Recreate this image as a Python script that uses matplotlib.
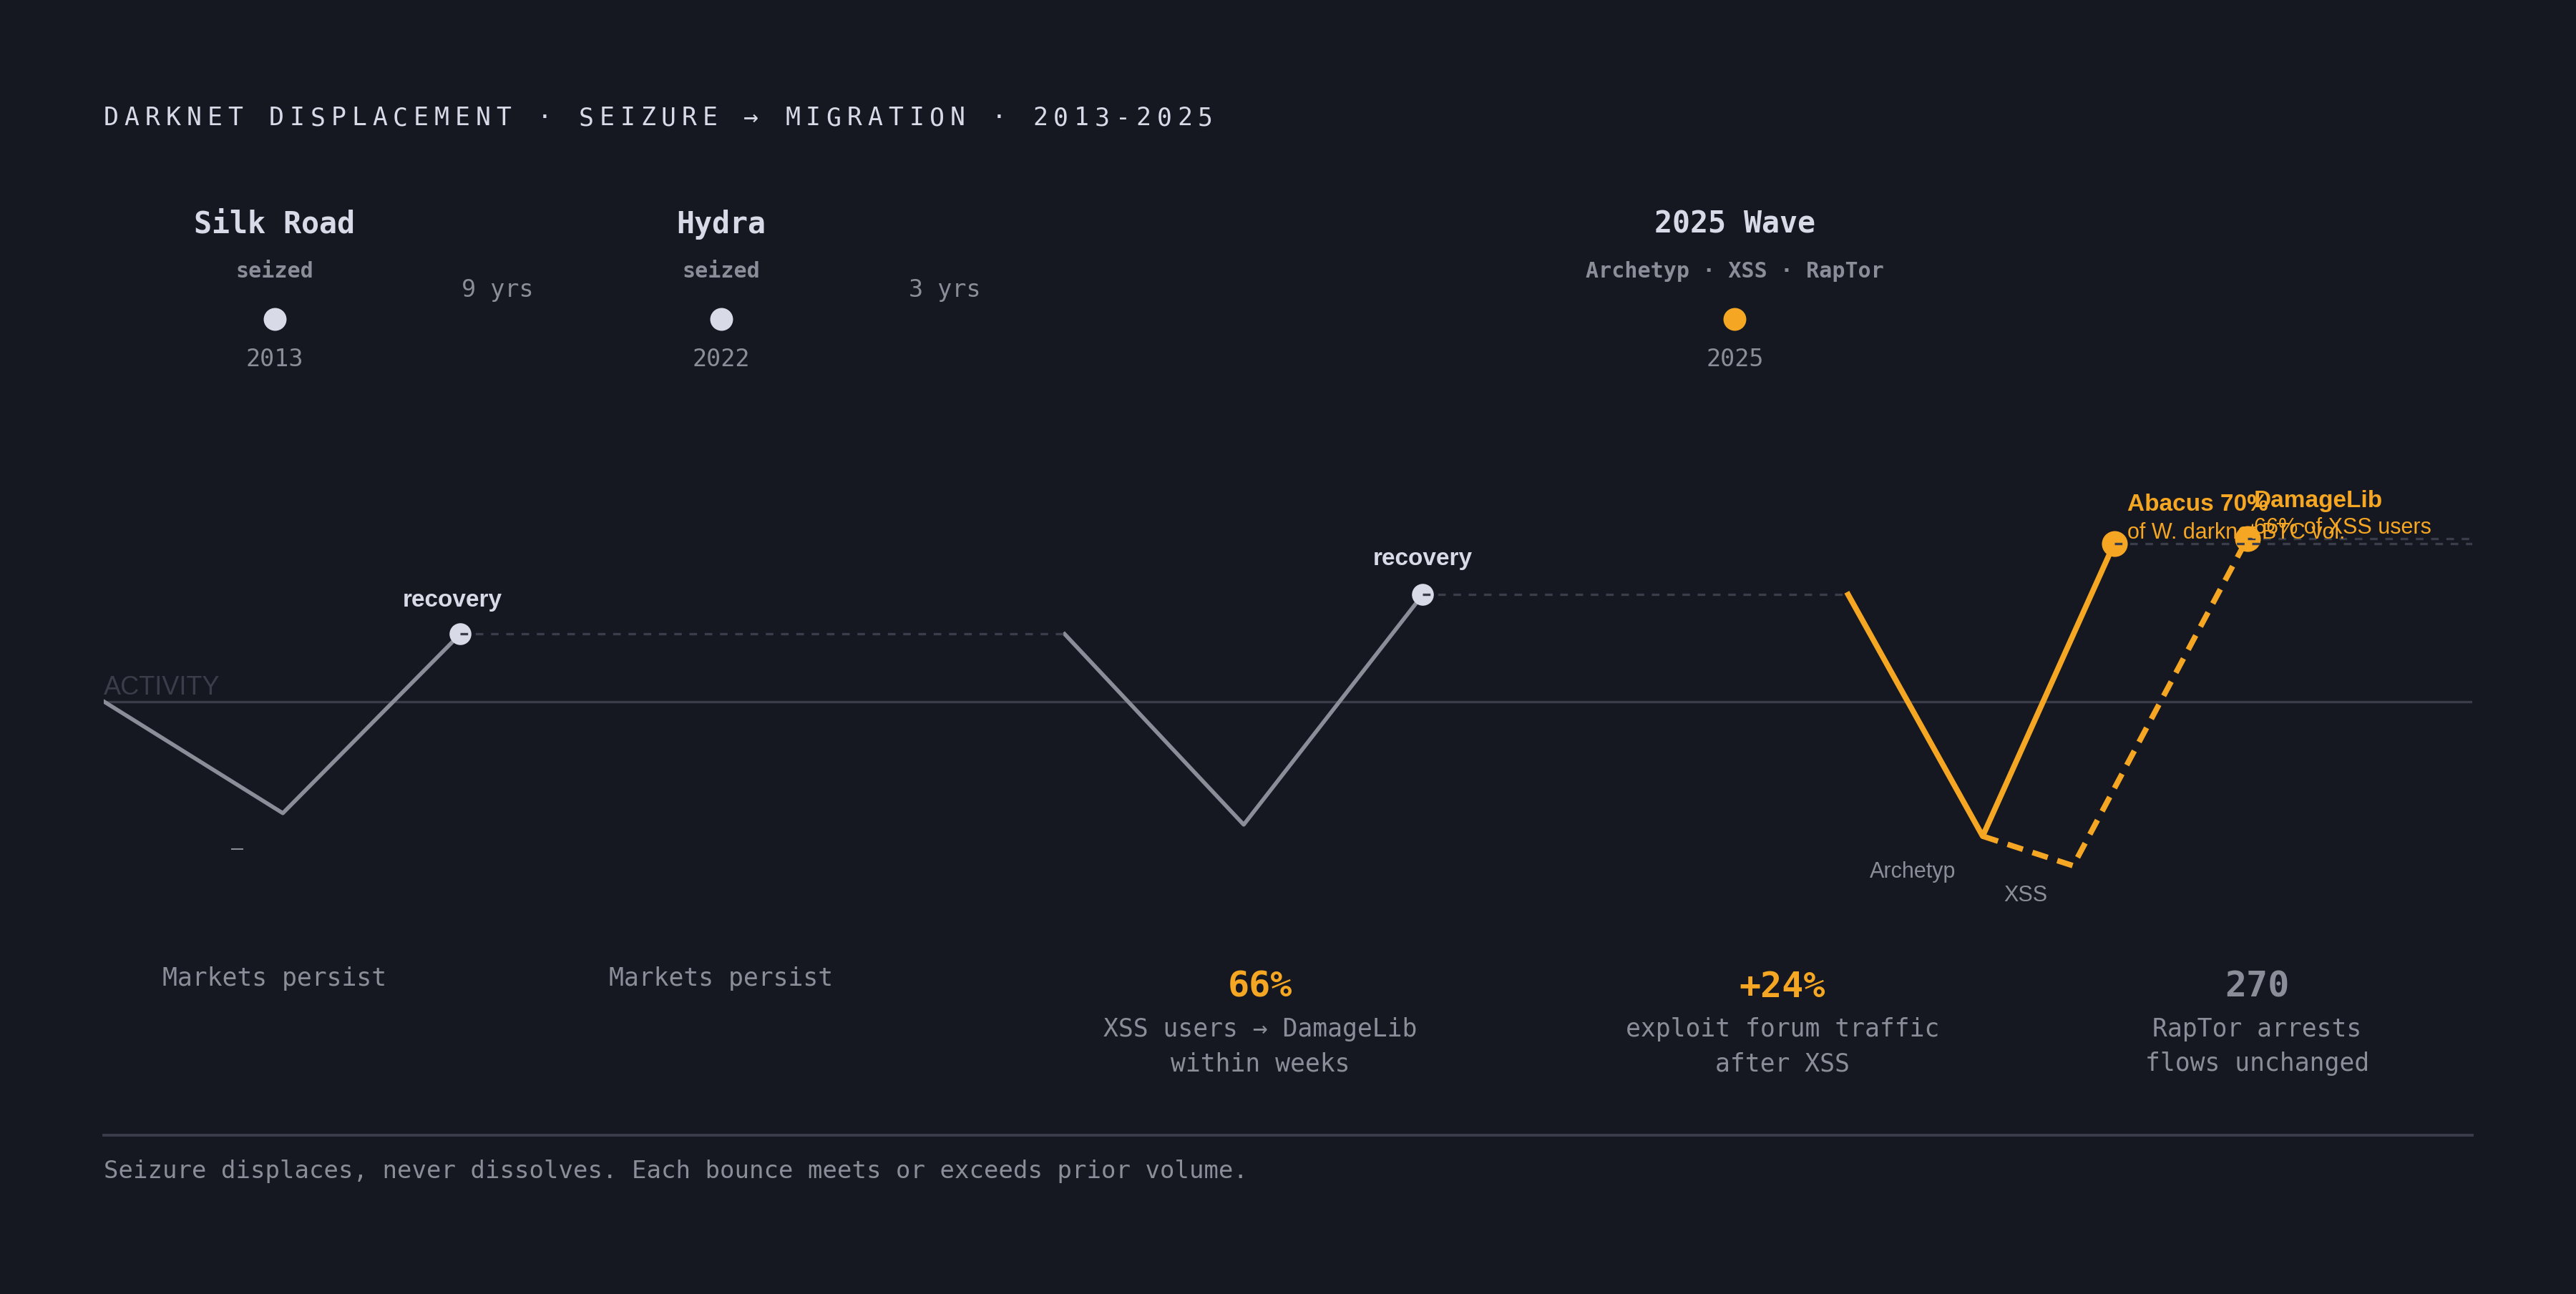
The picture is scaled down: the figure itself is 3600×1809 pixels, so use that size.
import matplotlib
matplotlib.use("Agg")
import matplotlib.pyplot as plt
from matplotlib import transforms

# colours
bg = '#151820'
light = '#d8dae8'
grey = '#8b8d98'
dim = '#3a3d4a'
orange = '#f5a623'
mono = ['DejaVu Sans Mono']
sans = ['Liberation Sans', 'DejaVu Sans']

# activity curve (x = schematic position 0-100, y = activity index, 100 = baseline)
silk_x = [0, 7.56, 15.05]
silk_y = [100, 32, 141]
hydra_x = [40.57, 48.13, 55.69]
hydra_y = [141, 25, 165]
abacus_x = [73.65, 79.33, 84.88]
abacus_y = [165, 18, 196]
damage_x = [79.33, 83.15, 90.50]
damage_y = [18, 0, 199]
hold_x = [(15.05, 40.57), (55.69, 73.65), (84.88, 100), (90.50, 100)]
hold_y = [141, 165, 196, 199]

# timeline
seizure_x = [7.21, 26.07, 68.86]
seizure_names = ['Silk Road', 'Hydra', '2025 Wave']
seizure_sub = ['seized', 'seized', 'Archetyp · XSS · RapTor']
seizure_years = ['2013', '2022', '2025']
gap_x = [16.64, 35.51]
gap_labels = ['9 yrs', '3 yrs']

# stats row
stat_x = [7.21, 26.07, 48.82, 70.87, 90.92]
stat_big = ['', '', '66%', '+24%', '270']
stat_big_color = [grey, grey, orange, orange, grey]
stat_lines = [['Markets persist'], ['Markets persist'],
              ['XSS users → DamageLib', 'within weeks'],
              ['exploit forum traffic', 'after XSS'],
              ['RapTor arrests', 'flows unchanged']]

W, H = 3600, 1809
fig = plt.figure(figsize=(W / 200, H / 200), dpi=200, facecolor=bg)

def fy(p):
    return 1 - p / H

ax = fig.add_axes([145 / W, fy(1378), 3310 / W, 804 / H])
ax.set_xlim(0, 100)
ax.set_ylim(-73, 277)
ax.axis('off')

# baseline
ax.axhline(100, color=dim, lw=1.2, zorder=1)
ax.annotate('ACTIVITY', (0, 100), xytext=(0, 0.5), textcoords='offset points',
            ha='left', va='bottom', color=dim, fontsize=13, family=sans)

# past cycles
ax.plot(silk_x, silk_y, color=grey, lw=2.0, zorder=2)
ax.plot(hydra_x, hydra_y, color=grey, lw=2.0, zorder=2)
ax.plot([silk_x[-1], hydra_x[-1]], [silk_y[-1], hydra_y[-1]], 'o', color=light,
        ms=11, mec='none', zorder=3)

# 2025 wave
ax.plot(abacus_x, abacus_y, color=orange, lw=2.8, zorder=2)
ax.plot(damage_x, damage_y, color=orange, lw=2.8, ls=(0, (2.9, 1.8)), zorder=2)
ax.plot([abacus_x[-1], damage_x[-1]], [abacus_y[-1], damage_y[-1]], 'o',
        color=orange, ms=13, mec='none', zorder=3)

# holding levels
for (x0, x1), y in zip(hold_x, hold_y):
    ax.plot([x0, x1], [y, y], color=dim, lw=1.2, ls=(0, (3.2, 3.2)), zorder=4)

# labels on the curve
ax.annotate('recovery', (silk_x[-1], silk_y[-1]), xytext=(-4, 17),
            textcoords='offset points', ha='center', va='center',
            color=light, fontsize=12, fontweight='bold', family=sans)
ax.annotate('recovery', (hydra_x[-1], hydra_y[-1]), xytext=(0, 18),
            textcoords='offset points', ha='center', va='center',
            color=light, fontsize=12, fontweight='bold', family=sans)
ax.annotate('–', (silk_x[1], silk_y[1]), xytext=(-23, -18),
            textcoords='offset points', ha='center', va='center',
            color=grey, fontsize=11, family=sans)
ax.annotate('Archetyp', (abacus_x[1], abacus_y[1]), xytext=(-35, -18),
            textcoords='offset points', ha='center', va='center',
            color=grey, fontsize=11, family=sans)
ax.annotate('XSS', (damage_x[1], damage_y[1]), xytext=(-24, -15),
            textcoords='offset points', ha='center', va='center',
            color=grey, fontsize=11, family=sans)
ax.annotate('Abacus 70%', (abacus_x[-1], abacus_y[-1]), xytext=(6.5, 19.5),
            textcoords='offset points', ha='left', va='center',
            color=orange, fontsize=12, fontweight='bold', family=sans, zorder=5)
ax.annotate('of W. darknet BTC vol.', (abacus_x[-1], abacus_y[-1]), xytext=(6.5, 5.5),
            textcoords='offset points', ha='left', va='center',
            color=orange, fontsize=11, family=sans, zorder=5)
ax.annotate('DamageLib', (damage_x[-1], damage_y[-1]), xytext=(3.3, 19),
            textcoords='offset points', ha='left', va='center',
            color=orange, fontsize=12, fontweight='bold', family=sans, zorder=5)
ax.annotate('66% of XSS users', (damage_x[-1], damage_y[-1]), xytext=(3.3, 5.5),
            textcoords='offset points', ha='left', va='center',
            color=orange, fontsize=11, family=sans, zorder=5)

# title, letter spaced
title = 'DARKNET DISPLACEMENT · SEIZURE → MIGRATION · 2013-2025'
for i, ch in enumerate(title):
    fig.text((145 + i * 28.85) / W, fy(165), ch, ha='left', va='center',
             color=light, fontsize=12.5, family=mono)

# timeline above
tr = transforms.blended_transform_factory(ax.transData, fig.transFigure)
for i, x in enumerate(seizure_x):
    dot_col = orange if i == 2 else light
    ax.text(x, fy(314), seizure_names[i], transform=tr, ha='center', va='center',
            color=light, fontsize=15, fontweight='bold', family=mono)
    ax.text(x, fy(380), seizure_sub[i], transform=tr, ha='center', va='center',
            color=grey, fontsize=10.8, fontweight='bold', family=mono)
    ax.plot([x], [fy(446)], 'o', transform=tr, color=dot_col, ms=11.5,
            mec='none', clip_on=False)
    ax.text(x, fy(502), seizure_years[i], transform=tr, ha='center', va='center',
            color=grey, fontsize=12, family=mono)
for x, lab in zip(gap_x, gap_labels):
    ax.text(x, fy(406), lab, transform=tr, ha='center', va='center',
            color=grey, fontsize=12, family=mono)

# stats row
for x, big, bc, lines in zip(stat_x, stat_big, stat_big_color, stat_lines):
    if big:
        ax.text(x, fy(1380), big, transform=tr, ha='center', va='center',
                color=bc, fontsize=18, fontweight='bold', family=mono)
        for j, ln in enumerate(lines):
            ax.text(x, fy(1439 + 48 * j), ln, transform=tr, ha='center',
                    va='center', color=grey, fontsize=12.5, family=mono)
    else:
        ax.text(x, fy(1368), lines[0], transform=tr, ha='center', va='center',
                color=grey, fontsize=12.5, family=mono)

# footer
fig.add_artist(plt.Line2D([145 / W, 3455 / W], [fy(1587), fy(1587)],
                          color=dim, lw=1.4))
fig.text(145 / W, fy(1638), 'Seizure displaces, never dissolves. Each bounce meets or exceeds prior volume.',
         ha='left', va='center', color=grey, fontsize=12.25, family=mono)

fig.savefig('out.png', dpi=200, facecolor=bg)
